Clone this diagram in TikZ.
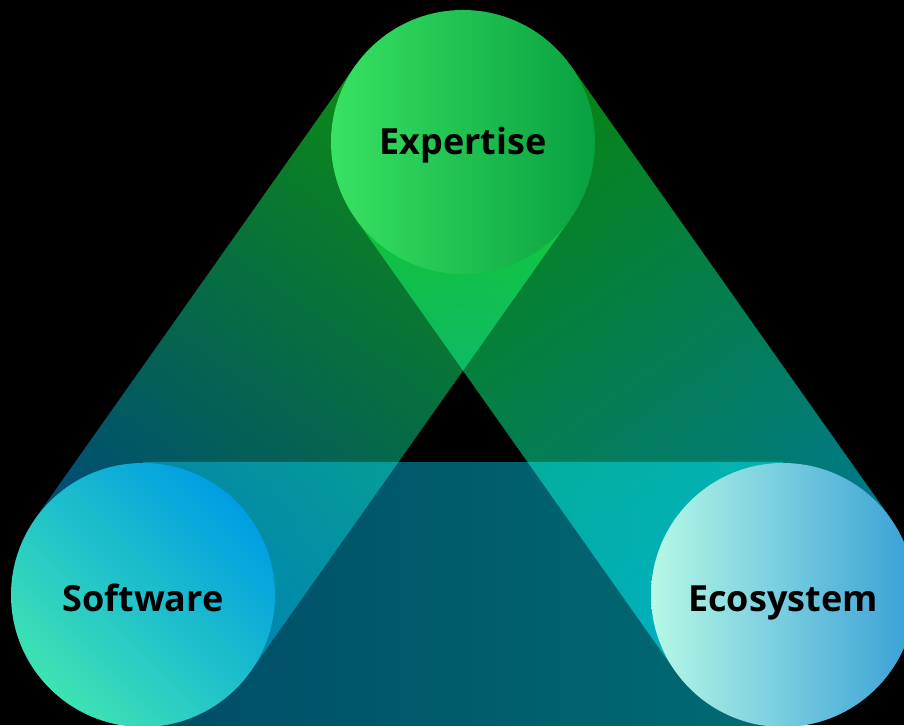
\documentclass[tikz,border=0pt]{standalone}
\usepackage{fontspec}
\setmainfont{Open Sans}
\definecolor{esA}{HTML}{0C8A14}
\definecolor{esB}{HTML}{004A7A}
\definecolor{ecA}{HTML}{088410}
\definecolor{ecB}{HTML}{00788E}
\definecolor{scA}{HTML}{004C68}
\definecolor{scB}{HTML}{006C72}
\definecolor{expL}{HTML}{38E262}
\definecolor{expR}{HTML}{08A040}
\definecolor{softA}{HTML}{3EE2B4}
\definecolor{softB}{HTML}{009EE2}
\definecolor{ecoL}{HTML}{B6F8E6}
\definecolor{ecoR}{HTML}{38A0D6}
\tikzset{
  bubble/.style={circle, minimum size=264pt, inner sep=0pt,
    font=\bfseries\fontsize{36}{40}\selectfont, text=black,
    text height=26pt, text depth=0pt},
  lowbubble/.style={bubble, text height=34pt},
  band/.style={draw=none}
}
\begin{document}
\begin{tikzpicture}[x=1pt,y=1pt]
\useasboundingbox (0,0) rectangle (904,725);
\clip (0,0) rectangle (904,725);
\fill[black] (0,0) rectangle (904,725);
\coordinate (Ec) at (463,583);
\coordinate (Sc) at (143,130);
\coordinate (Cc) at (783,130);
\begin{scope}[blend mode=screen]
  \shade[band, transform canvas={shift={(463,583)}, rotate=234.75},
    left color=esA, right color=esB] (0,-132) rectangle (554.6,132);
  \shade[band, transform canvas={shift={(463,583)}, rotate=-54.75},
    left color=ecA, right color=ecB] (0,-132) rectangle (554.6,132);
  \shade[band, left color=scA, right color=scB]
    ([yshift=-132pt]Sc) rectangle ([yshift=132pt]Cc);
\end{scope}
\node[bubble, left color=expL, right color=expR] (exp) at (Ec) {Expertise};
\node[lowbubble, top color=softB, bottom color=softA, shading angle=-45] (soft) at (Sc) {Software};
\node[lowbubble, left color=ecoL, right color=ecoR] (eco) at (Cc) {Ecosystem};
\end{tikzpicture}
\end{document}
